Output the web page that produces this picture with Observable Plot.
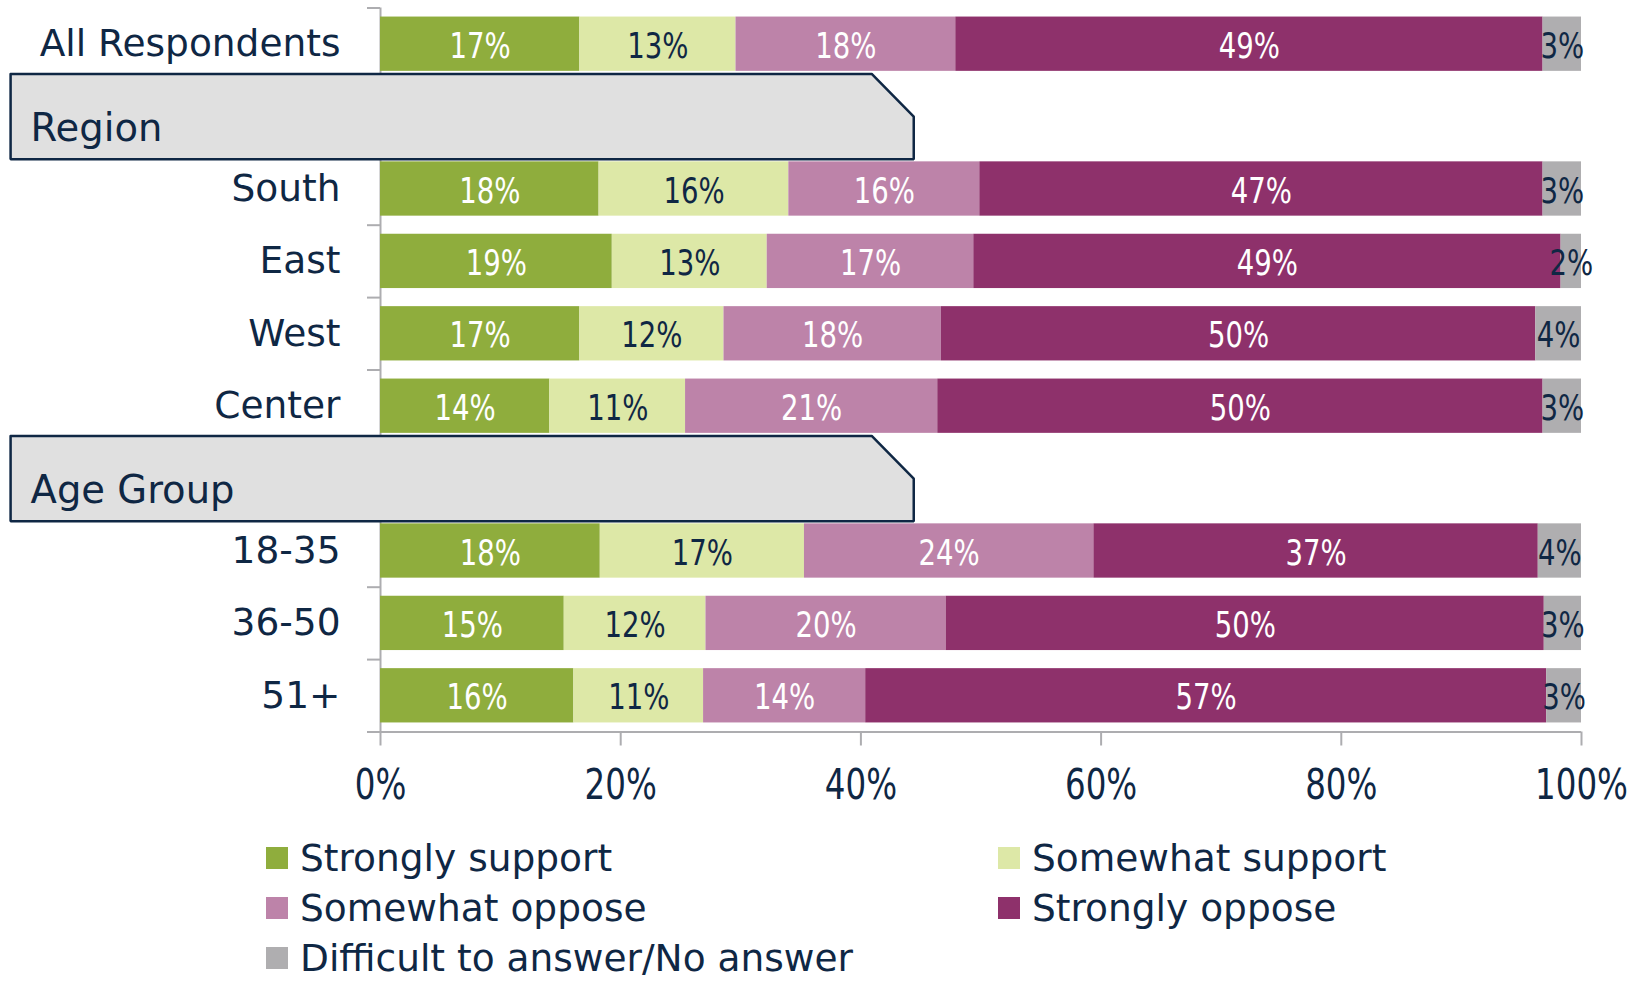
<!DOCTYPE html>
<html>
<head>
<meta charset="utf-8">
<script src="https://cdn.jsdelivr.net/npm/d3@7"></script>
<script src="https://cdn.jsdelivr.net/npm/@observablehq/plot@0.6"></script>
<style>
  body { margin: 0; background: #fff; font-family: "DejaVu Sans", sans-serif; overflow: hidden; }
  #legend { display: grid; grid-template-columns: 732px auto; padding-left: 266px; margin-top: 2.9px; }
  .item { display: flex; align-items: center; height: 34px; margin: 8.1px 0; font-size: 37.5px; line-height: 34px; color: #0F2744; white-space: nowrap; }
  .sw { width: 22px; height: 22px; margin-right: 12px; flex: none; }
</style>
</head>
<body>
<div id="chart"></div>
<div id="legend"></div>
<script>
// ---- data ----
const rows = ["All Respondents", "Region", "South", "East", "West", "Center", "Age Group", "18-35", "36-50", "51+"];
const groupHeaders = ["Region", "Age Group"];
const categories = ["All Respondents", "South", "East", "West", "Center", "18-35", "36-50", "51+"];
const seriesNames = ["Strongly support", "Somewhat support", "Somewhat oppose", "Strongly oppose", "Difficult to answer/No answer"];
const stronglySupport = [16.6, 18.2, 19.3, 16.6, 14.1, 18.3, 15.3, 16.1];
const somewhatSupport = [13.0, 15.8, 12.9, 12.0, 11.3, 17.0, 11.8, 10.8];
const somewhatOppose  = [18.3, 15.9, 17.2, 18.1, 21.0, 24.1, 20.0, 13.5];
const stronglyOppose  = [48.9, 46.9, 48.9, 49.5, 50.4, 37.0, 49.8, 56.7];
const noAnswer        = [3.2, 3.2, 1.7, 3.8, 3.2, 3.6, 3.1, 2.9];
const xTicks = [0, 20, 40, 60, 80, 100];

// ---- styles ----
const colors = ["#8FAD3D", "#DDE8A7", "#BD83A9", "#8E316B", "#AFAEB0"];
const darkLabelSeries = ["Somewhat support", "Difficult to answer/No answer"];
const navy = "#0F2744";
const gray = "#ADADB0";
const narrow = '"Liberation Sans Narrow", "DejaVu Sans Condensed", sans-serif';
const wide = '"DejaVu Sans", sans-serif';

const seriesValues = [stronglySupport, somewhatSupport, somewhatOppose, stronglyOppose, noAnswer];
const data = [];
categories.forEach((c, i) => seriesNames.forEach((s, j) => data.push({category: c, series: s, value: seriesValues[j][i]})));
const rowIndex = (c) => rows.indexOf(c);
const labelText = (d) => Math.round(d.value) + "%";

// header boxes (bevelled top-right corner), in scale units
const boxLeft = -30.8, boxRight = 44.4, bevel = 40.9, halfH = 0.59;
const boxPts = [];
groupHeaders.forEach((g) => {
  const c = rowIndex(g) + 0.5;
  [[boxLeft, c - halfH], [bevel, c - halfH], [boxRight, c], [boxRight, c + halfH], [boxLeft, c + halfH], [boxLeft, c - halfH]]
    .forEach(([x, y]) => boxPts.push({g, x, y}));
});

const chart = Plot.plot({
  width: 1644,
  height: 830,
  marginLeft: 380,
  marginRight: 63,
  marginTop: 7.5,
  marginBottom: 98.5,
  style: {fontFamily: wide, background: "#fff", overflow: "visible"},
  x: {domain: [0, 100], label: null},
  y: {domain: [0, rows.length], reverse: true, label: null},
  color: {domain: seriesNames, range: colors},
  marks: [
    Plot.ruleX([0], {stroke: gray, strokeWidth: 2}),
    Plot.axisY({ticks: d3.range(0, rows.length + 1), tickSize: 13, tickFormat: () => "", stroke: gray, strokeWidth: 2, label: null}),
    Plot.rectX(data, Plot.stackX({
      x: "value",
      y1: (d) => rowIndex(d.category) + 0.125,
      y2: (d) => rowIndex(d.category) + 0.875,
      z: "series",
      fill: "series"
    })),
    Plot.text(data, Plot.stackX({
      x: "value", y: (d) => rowIndex(d.category) + 0.5, z: "series",
      text: (d) => darkLabelSeries.includes(d.series) ? "" : labelText(d),
      fill: "white", fontSize: 36, fontFamily: narrow, dy: 2
    })),
    Plot.text(data, Plot.stackX({
      x: "value", y: (d) => rowIndex(d.category) + 0.5, z: "series",
      text: (d) => darkLabelSeries.includes(d.series) ? labelText(d) : "",
      fill: navy, fontSize: 36, fontFamily: narrow, dy: 2
    })),
    Plot.line(boxPts, {x: "x", y: "y", z: "g", fill: "#E0E0E0", stroke: navy, strokeWidth: 2.5, strokeLinejoin: "miter"}),
    Plot.text(groupHeaders, {x: boxLeft, y: (d) => rowIndex(d) + 0.5, text: (d) => d, textAnchor: "start", dx: 20, dy: 12, fontSize: 38.5, fill: navy}),
    Plot.text(categories, {x: 0, y: (d) => rowIndex(d) + 0.5, text: (d) => d, textAnchor: "end", dx: -40, fontSize: 37.5, fill: navy}),
    Plot.ruleY([rows.length], {stroke: gray, strokeWidth: 2}),
    Plot.axisX({ticks: xTicks, tickSize: 14, tickPadding: 23, tickFormat: (d) => d + "%", fontSize: 42, fontFamily: narrow, stroke: gray, strokeWidth: 2, fill: navy, label: null})
  ]
});
document.getElementById("chart").appendChild(chart);

// narrow the number labels horizontally (no narrow font installed)
function squeeze(nodes, s) {
  nodes.forEach((t) => {
    const x = +t.getAttribute("x") || 0;
    const tr = t.getAttribute("transform") || "";
    t.setAttribute("transform", `${tr} translate(${x},0) scale(${s},1) translate(${-x},0)`);
  });
}
const allTexts = Array.from(chart.querySelectorAll("text"));
const tickTexts = Array.from(chart.querySelectorAll('g[aria-label="x-axis tick label"] text'));
const barTexts = allTexts.filter((t) => /%$/.test(t.textContent) && !tickTexts.includes(t));
squeeze(barTexts, 0.85);
squeeze(tickTexts, 0.86);

// legend
const legend = document.getElementById("legend");
seriesNames.forEach((s, i) => {
  const item = document.createElement("div");
  item.className = "item";
  const sw = document.createElement("span");
  sw.className = "sw";
  sw.style.background = colors[i];
  const t = document.createElement("span");
  t.textContent = s;
  item.appendChild(sw);
  item.appendChild(t);
  legend.appendChild(item);
});
</script>
</body>
</html>
